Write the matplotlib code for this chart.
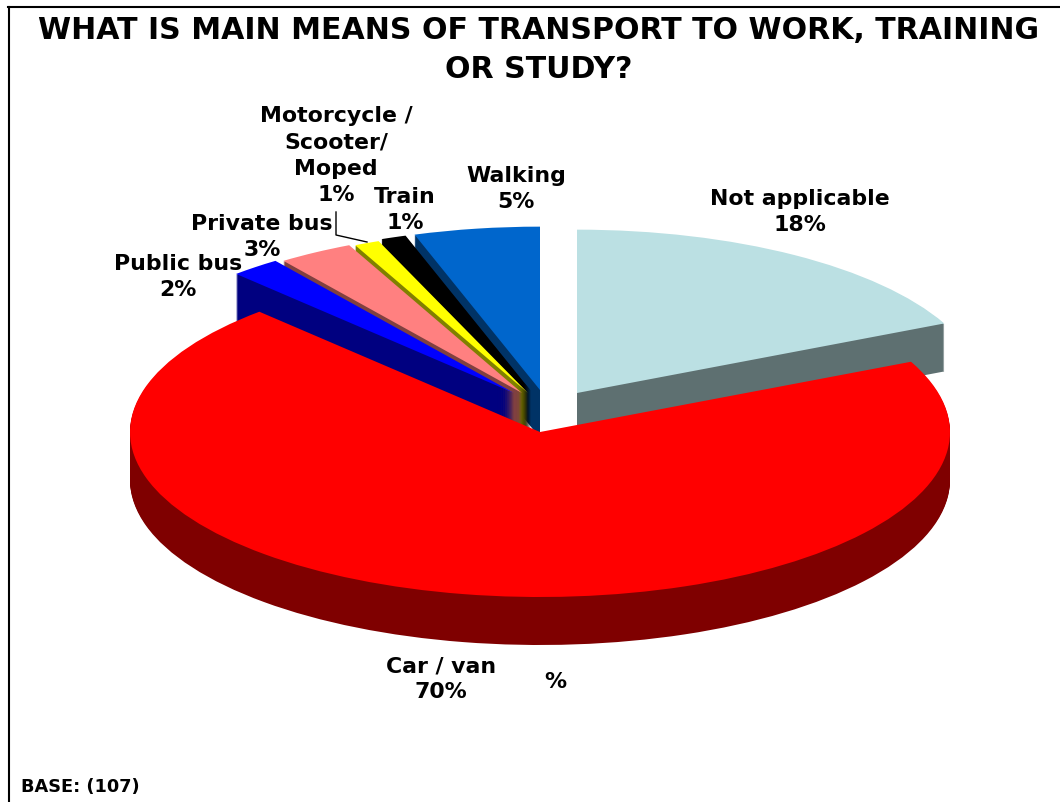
import matplotlib
matplotlib.use('Agg')
import matplotlib.pyplot as plt

labels = ['Not applicable', 'Car / van', 'Public bus', 'Private bus',
          'Motorcycle /\nScooter/\nMoped', 'Train', 'Walking']
values = [18, 70, 2, 3, 1, 1, 5]

top_colors = ['#BBE0E3', '#FF0000', '#0000FF', '#FF8080', '#FFFF00', '#000000', '#0066CC']
side_colors = ['#5E7071', '#7F0000', '#000080', '#804040', '#808000', '#000000', '#003366']

# slice offsets from the pie centre, in pixels (x right, y up)
offsets = [(37, 39), (0, 0), (-26, 39), (-18, 39), (-12, 39), (-9, 41), (0, 42)]
radii = [0.99, 1.0, 0.99, 0.99, 0.99, 0.99, 0.99]
# drawing order, back to front
zorders = [1, 9, 7, 6, 5, 4, 3]

# centre x and y of the first line of each label
label_pos = [(800, 199), (441, 666), (178, 264), (262, 224), (336, 116), (405, 197), (516, 176)]
line_step = 26.3

# pie geometry in pixels
cx, cy = 540, 432
rx, ry = 410, 165
depth = 48

fig = plt.figure(figsize=(10.6, 8.02), dpi=100)
ax = fig.add_axes([0, 0, 1, 1])


def draw_pie(colors, drop, z_add):
    wedges, _ = ax.pie(values, colors=colors, startangle=90, counterclock=False,
                       wedgeprops={'linewidth': 0})
    for w, off, r, z in zip(wedges, offsets, radii, zorders):
        w.set_center((off[0] / rx, (off[1] - drop) / ry))
        w.set_radius(r)
        w.set_zorder(z + z_add)


for d in range(depth, 0, -1):
    draw_pie(side_colors, d, (depth - d) * 0.001)
draw_pie(top_colors, 0, 0.5)

ax.set_aspect('auto')
ax.set_xlim(-cx / rx, (1060 - cx) / rx)
ax.set_ylim((cy - 802) / ry, cy / ry)
ax.axis('off')

# overlay in pixel coordinates for the text
ov = fig.add_axes([0, 0, 1, 1], facecolor='none')
ov.set_xlim(0, 1060)
ov.set_ylim(802, 0)
ov.axis('off')

ov.text(539, 50, 'WHAT IS MAIN MEANS OF TRANSPORT TO WORK, TRAINING\nOR STUDY?',
        ha='center', va='center', fontsize=21.6, fontweight='bold', linespacing=1.43)

# each line on its own, the label blocks sit close together
for name, v, (x, y) in zip(labels, values, label_pos):
    lines = name.split('\n') + [f'{v}%']
    for i, line in enumerate(lines):
        ov.text(x, y + i * line_step, line, ha='center', va='center', fontsize=15.8,
                fontweight='bold')

ov.text(555, 682, '%', ha='center', va='center', fontsize=15.8, fontweight='bold')
ov.text(21, 787, 'BASE: (107)', ha='left', va='center', fontsize=12.8, fontweight='bold')

ov.plot([336, 336, 367], [212, 235, 242], color='black', lw=1)
ov.plot([9, 9], [802, 6.5], color='black', lw=1.5, clip_on=False)
ov.plot([8.3, 1060], [6.5, 6.5], color='black', lw=1.5, clip_on=False)

fig.savefig('out.png', dpi=100)
